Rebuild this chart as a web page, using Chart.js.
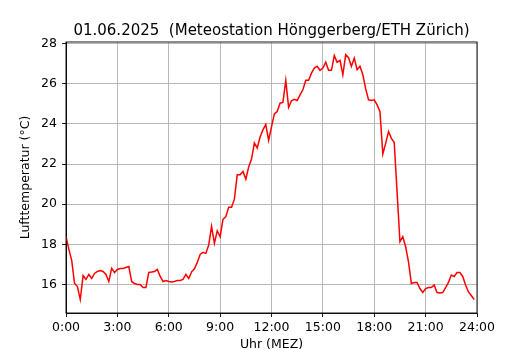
<!DOCTYPE html>
<html>
<head>
<meta charset="utf-8">
<script src="https://cdn.jsdelivr.net/npm/chart.js@4.4.1/dist/chart.umd.min.js"></script>
<style>
  html, body { margin: 0; padding: 0; background: #fff; }
  canvas { display: block; }
</style>
</head>
<body>
<canvas id="tempChart" width="530" height="350" style="width:530px;height:350px"></canvas>
<script>
// 10-minute values, 01.06.2025, 0:00 .. 23:50
const temps = [
  18.4, 17.75, 17.2, 16.05, 15.9, 15.25,      // 0h
  16.45, 16.25, 16.5, 16.3, 16.55, 16.65,     // 1h
  16.7, 16.65, 16.5, 16.15, 16.8, 16.6,       // 2h
  16.75, 16.8, 16.8, 16.85, 16.9, 16.15,      // 3h
  16.05, 16.0, 16.0, 15.85, 15.85, 16.6,      // 4h
  16.62, 16.65, 16.75, 16.4, 16.15, 16.2,     // 5h
  16.15, 16.13, 16.15, 16.2, 16.2, 16.25,     // 6h
  16.5, 16.3, 16.63, 16.78, 17.1, 17.5,       // 7h
  17.6, 17.55, 17.97, 18.9, 18.05, 18.68,     // 8h
  18.38, 19.25, 19.38, 19.85, 19.85, 20.25,   // 9h
  21.47, 21.47, 21.63, 21.25, 21.85, 22.25,   // 10h
  23.05, 22.8, 23.35, 23.7, 23.97, 23.18,     // 11h
  23.85, 24.5, 24.62, 25.03, 25.07, 26.17,    // 12h
  24.82, 25.15, 25.23, 25.17, 25.45, 25.7,    // 13h
  26.17, 26.17, 26.53, 26.78, 26.87, 26.67,   // 14h
  26.78, 27.07, 26.67, 26.67, 27.4, 27.07,    // 15h
  27.17, 26.45, 27.45, 27.3, 26.87, 27.28,    // 16h
  26.7, 26.87, 26.45, 25.75, 25.2, 25.17,     // 17h
  25.2, 24.95, 24.62, 22.5, 23.03, 23.62,     // 18h
  23.28, 23.07, 20.6, 18.13, 18.38, 17.88,    // 19h
  17.13, 16.05, 16.1, 16.1, 15.8, 15.6,       // 20h
  15.8, 15.85, 15.85, 15.97, 15.6, 15.58,     // 21h
  15.6, 15.85, 16.1, 16.47, 16.4, 16.6,       // 22h
  16.6, 16.4, 15.97, 15.63, 15.45, 15.25      // 23h
];
const xTicks = [0, 3, 6, 9, 12, 15, 18, 21, 24];
const yTicks = [16, 18, 20, 22, 24, 26, 28];

// time of each reading in hours
const points = temps.map((t, i) => ({ x: i / 6, y: t }));

const font = 'DejaVu Sans';

const frame = {
  id: 'frame',
  afterDatasetsDraw(chart) {
    const a = chart.chartArea;
    const ctx = chart.ctx;
    ctx.save();
    ctx.strokeStyle = '#000';
    ctx.lineWidth = 0.9;
    ctx.strokeRect(a.left, a.top, a.right - a.left, a.bottom - a.top);
    ctx.restore();
  }
};

new Chart(document.getElementById('tempChart'), {
  type: 'line',
  data: {
    datasets: [{
      data: points,
      borderColor: '#ff0000',
      borderWidth: 1.5,
      pointRadius: 0,
      tension: 0,
      fill: false
    }]
  },
  options: {
    responsive: false,
    devicePixelRatio: 1,
    animation: false,
    layout: { padding: { left: 0, right: 53, top: 0, bottom: 0 } },
    plugins: {
      legend: { display: false },
      tooltip: { enabled: false },
      title: {
        display: true,
        fullSize: false,
        text: '01.06.2025  (Meteostation Hönggerberg/ETH Zürich)',
        color: '#000',
        font: { family: font, size: 15, weight: 'normal', lineHeight: 1.2 },
        padding: { top: 22, bottom: 2 }
      }
    },
    scales: {
      x: {
        type: 'linear',
        min: 0,
        max: 24,
        afterBuildTicks: s => { s.ticks = xTicks.map(v => ({ value: v })); },
        afterFit: s => { s.height = 37; },
        ticks: {
          color: '#000',
          font: { family: font, size: 12.5 },
          padding: 3,
          maxRotation: 0,
          callback: v => v + ':00'
        },
        grid: { color: '#b0b0b0', lineWidth: 0.9, tickColor: '#000', tickLength: 4 },
        border: { color: '#000', width: 0.9 },
        title: {
          display: true,
          text: 'Uhr (MEZ)',
          color: '#000',
          font: { family: font, size: 12.5, lineHeight: 0.8 },
          padding: { top: 0, bottom: 0 }
        }
      },
      y: {
        type: 'linear',
        min: 14.58,
        max: 28.08,
        afterBuildTicks: s => { s.ticks = yTicks.map(v => ({ value: v })); },
        afterFit: s => { s.width = 66; },
        ticks: {
          color: '#000',
          font: { family: font, size: 12.5 },
          padding: 5,
          callback: v => String(v)
        },
        grid: { color: '#b0b0b0', lineWidth: 0.9, tickColor: '#000', tickLength: 4 },
        border: { color: '#000', width: 0.9 },
        title: {
          display: true,
          text: 'Lufttemperatur (°C)',
          color: '#000',
          font: { family: font, size: 12.5, lineHeight: 1.2 },
          padding: { top: 18.5, bottom: 0 }
        }
      }
    }
  },
  plugins: [frame]
});
</script>
</body>
</html>
